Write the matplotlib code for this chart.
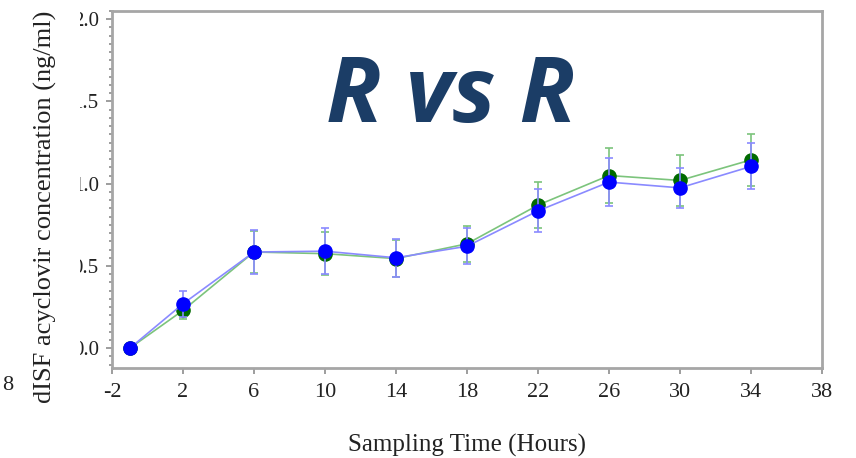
#!/usr/bin/env python

import matplotlib
matplotlib.use("Agg")
import matplotlib.pyplot as plt
from matplotlib.patches import Rectangle
from matplotlib.ticker import MultipleLocator

# sampling times (hours)
hours = [-1, 2, 6, 10, 14, 18, 22, 26, 30, 34]

# mean dISF acyclovir concentration (ng/ml) and SD
green_mean = [0.0, 0.23, 0.585, 0.575, 0.545, 0.635, 0.87, 1.05, 1.02, 1.145]
green_err = [0.0, 0.05, 0.13, 0.13, 0.11, 0.11, 0.14, 0.17, 0.155, 0.16]
blue_mean = [0.0, 0.27, 0.585, 0.59, 0.55, 0.62, 0.835, 1.01, 0.975, 1.105]
blue_err = [0.0, 0.08, 0.135, 0.14, 0.115, 0.11, 0.13, 0.145, 0.12, 0.14]

x_ticks = [-2, 2, 6, 10, 14, 18, 22, 26, 30, 34, 38]
y_ticks = [0.0, 0.5, 1.0, 1.5, 2.0]


def main() -> int:
    plt.rcParams["font.family"] = ["Liberation Serif", "DejaVu Serif"]
    plt.rcParams["axes.unicode_minus"] = False

    fig = plt.figure(figsize=(8.56, 4.58), dpi=100)
    ax = fig.add_axes([0.1308, 0.1965, 0.8294, 0.7795])

    # green series first, blue drawn on top
    ax.errorbar(hours, green_mean, yerr=green_err, color="#7cc47c", lw=1.2,
                ecolor="#7cc47c", elinewidth=1.2, capsize=3, capthick=1.2,
                marker="o", ms=9.5, mfc="#006a00", mec="#006a00", zorder=3)
    ax.errorbar(hours, blue_mean, yerr=blue_err, color="#8a8aff", lw=1.2,
                ecolor="#8a8aff", elinewidth=1.2, capsize=3, capthick=1.2,
                marker="o", ms=9.5, mfc="#0000ff", mec="#0000ff", zorder=4)

    ax.set_xlim(-2, 38)
    ax.set_ylim(-0.12, 2.05)
    ax.set_xticks(x_ticks)
    ax.set_yticks(y_ticks)
    ax.set_yticklabels([f"{v:.1f}" for v in y_ticks])
    ax.yaxis.set_minor_locator(MultipleLocator(0.05))

    for side in ax.spines.values():
        side.set_color("#a6a6a6")
        side.set_linewidth(2)
    ax.tick_params(axis="both", which="major", direction="out", length=4.5,
                   width=1.2, color="#8c8c8c", labelcolor="#222222")
    ax.tick_params(axis="y", which="minor", direction="out", length=2.5,
                   width=1.2, color="#8c8c8c")
    ax.tick_params(axis="x", labelsize=16, pad=6)
    ax.tick_params(axis="y", labelsize=15, pad=5)

    ax.set_xlabel("Sampling Time (Hours)", fontsize=18, color="#222222",
                  va="center")
    ax.xaxis.set_label_coords(0.5, -0.216)

    # the leading tick digits are hidden behind the y label strip
    fig.add_artist(Rectangle((20 / 856, 0), 60 / 856, 1, transform=fig.transFigure,
                             facecolor="white", edgecolor="none", zorder=5))
    fig.text(0.053, 0.548, "dISF acyclovir concentration (ng/ml)",
             rotation=90, fontsize=19, color="#222222",
             ha="center", va="center", zorder=6)
    fig.text(0.003, 0.158, "8", fontsize=16, color="#222222",
             ha="left", va="center")

    fig.text(0.526, 0.786, "R vs R", fontsize=66, color="#1b3d66",
             fontweight="bold", fontstyle="italic",
             family=["Open Sans", "Lato", "DejaVu Sans"],
             ha="center", va="center")

    fig.savefig("out.png", dpi=100)
    return 0


if __name__ == "__main__":
    main()
